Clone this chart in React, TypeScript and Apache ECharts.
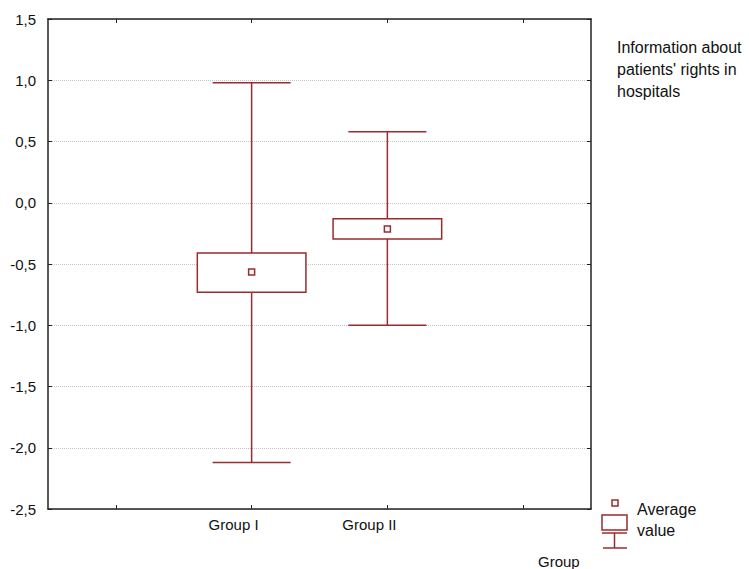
import React, { useEffect, useRef } from "react";
import * as echarts from "echarts";

const categories = ["", "Group I", "Group II", " "];
const groups = ["Group I", "Group II"];
const whiskerMin = [-2.12, -1.0];
const boxLow = [-0.73, -0.295];
const boxHigh = [-0.41, -0.13];
const whiskerMax = [0.98, 0.58];
const means = [-0.565, -0.215];
const yTicks = { min: -2.5, max: 1.5, interval: 0.5 };
const titleText = "Information about\npatients' rights in\nhospitals";
const legendText = "Average\nvalue";
const axisName = "Group";

const RED = "#9a2b2e";
const FONT = "Arial, 'Liberation Sans', sans-serif";

export default function App() {
  const ref = useRef<HTMLDivElement>(null);
  useEffect(() => {
    if (!ref.current) return;
    const chart = echarts.init(ref.current, undefined, { renderer: "svg" });
    const data = groups.map((g, i) => [
      categories.indexOf(g),
      whiskerMin[i],
      boxLow[i],
      boxHigh[i],
      whiskerMax[i],
      means[i],
    ]);
    const lineStyle = { stroke: RED, lineWidth: 1.5, fill: null };
    const option: any = {
      animation: false,
      backgroundColor: "#fff",
      textStyle: { fontFamily: FONT },
      grid: { left: 48, top: 19, width: 543, height: 490, show: false },
      title: [
        {
          text: titleText,
          left: 612,
          top: 31,
          textStyle: { fontFamily: FONT, fontSize: 16, fontWeight: "normal", color: "#111", lineHeight: 22 },
        },
        {
          text: axisName,
          left: 533,
          top: 549,
          textStyle: { fontFamily: FONT, fontSize: 15, fontWeight: "normal", color: "#111" },
        },
      ],
      xAxis: [
        {
          type: "category",
          data: categories,
          position: "bottom",
          axisLine: { show: true, onZero: false, lineStyle: { color: "#222", width: 1.5 } },
          axisTick: { show: true, inside: true, alignWithLabel: true, length: 4, lineStyle: { color: "#222" } },
          axisLabel: { color: "#111", fontSize: 15, fontFamily: FONT, margin: 8, padding: [0, 36, 0, 0] },
          splitLine: { show: false },
        },
        {
          type: "category",
          data: categories,
          position: "top",
          axisLine: { show: true, onZero: false, lineStyle: { color: "#222", width: 1.5 } },
          axisTick: { show: true, inside: true, alignWithLabel: true, length: 4, lineStyle: { color: "#222" } },
          axisLabel: { show: false },
          splitLine: { show: false },
        },
      ],
      yAxis: [
        {
          type: "value",
          min: yTicks.min,
          max: yTicks.max,
          interval: yTicks.interval,
          position: "left",
          axisLine: { show: true, onZero: false, lineStyle: { color: "#222", width: 1.5 } },
          axisTick: { show: true, inside: true, length: 4, lineStyle: { color: "#222" } },
          axisLabel: {
            color: "#111",
            fontSize: 15,
            fontFamily: FONT,
            margin: 12,
            formatter: (v: number) => v.toFixed(1).replace(".", ","),
          },
          splitLine: { show: true, lineStyle: { color: "#c4c4c4", type: "dotted", width: 1 } },
        },
        {
          type: "value",
          min: yTicks.min,
          max: yTicks.max,
          interval: yTicks.interval,
          position: "right",
          axisLine: { show: true, onZero: false, lineStyle: { color: "#222", width: 1.5 } },
          axisTick: { show: true, inside: true, length: 4, lineStyle: { color: "#222" } },
          axisLabel: { show: false },
          splitLine: { show: false },
        },
      ],
      series: [
        {
          type: "custom",
          xAxisIndex: 0,
          yAxisIndex: 0,
          data,
          encode: { x: 0, y: [1, 2, 3, 4, 5] },
          renderItem: (params: any, api: any) => {
            const xi = api.value(0);
            const [cx, yMin] = api.coord([xi, api.value(1)]);
            const yLow = api.coord([xi, api.value(2)])[1];
            const yHigh = api.coord([xi, api.value(3)])[1];
            const yMax = api.coord([xi, api.value(4)])[1];
            const yMean = api.coord([xi, api.value(5)])[1];
            const band = api.size([1, 0])[0];
            const bw = band * 0.8;
            const cw = band * 0.575;
            return {
              type: "group",
              children: [
                { type: "line", shape: { x1: cx, y1: yMax, x2: cx, y2: yHigh }, style: lineStyle },
                { type: "line", shape: { x1: cx, y1: yLow, x2: cx, y2: yMin }, style: lineStyle },
                { type: "line", shape: { x1: cx - cw / 2, y1: yMax, x2: cx + cw / 2, y2: yMax }, style: lineStyle },
                { type: "line", shape: { x1: cx - cw / 2, y1: yMin, x2: cx + cw / 2, y2: yMin }, style: lineStyle },
                {
                  type: "rect",
                  shape: { x: cx - bw / 2, y: yHigh, width: bw, height: yLow - yHigh },
                  style: { stroke: RED, lineWidth: 1.5, fill: "#fff" },
                },
                {
                  type: "rect",
                  shape: { x: cx - 3, y: yMean - 3, width: 6, height: 6 },
                  style: { stroke: RED, lineWidth: 1.5, fill: "#fff" },
                },
              ],
            };
          },
        },
      ],
      graphic: [
        { type: "rect", shape: { x: 612, y: 500, width: 6, height: 6 }, style: { stroke: RED, lineWidth: 1.5, fill: "#fff" } },
        { type: "rect", shape: { x: 602, y: 515, width: 25, height: 15 }, style: { stroke: RED, lineWidth: 1.5, fill: "#fff" } },
        { type: "line", shape: { x1: 602, y1: 533, x2: 627, y2: 533 }, style: { stroke: RED, lineWidth: 1.5 } },
        { type: "line", shape: { x1: 614.5, y1: 533, x2: 614.5, y2: 548 }, style: { stroke: RED, lineWidth: 1.5 } },
        { type: "line", shape: { x1: 603, y1: 548, x2: 627, y2: 548 }, style: { stroke: RED, lineWidth: 1.5 } },
        {
          type: "text",
          x: 637,
          y: 499,
          style: { text: legendText, fontFamily: FONT, fontSize: 16, fill: "#111", lineHeight: 21, textVerticalAlign: "top" },
        },
      ],
    };
    chart.setOption(option);
    return () => chart.dispose();
  }, []);
  return (
    <div
      ref={ref}
      style={{ position: "absolute", left: 0, top: 0, width: 749, height: 569, background: "#fff" }}
    />
  );
}
